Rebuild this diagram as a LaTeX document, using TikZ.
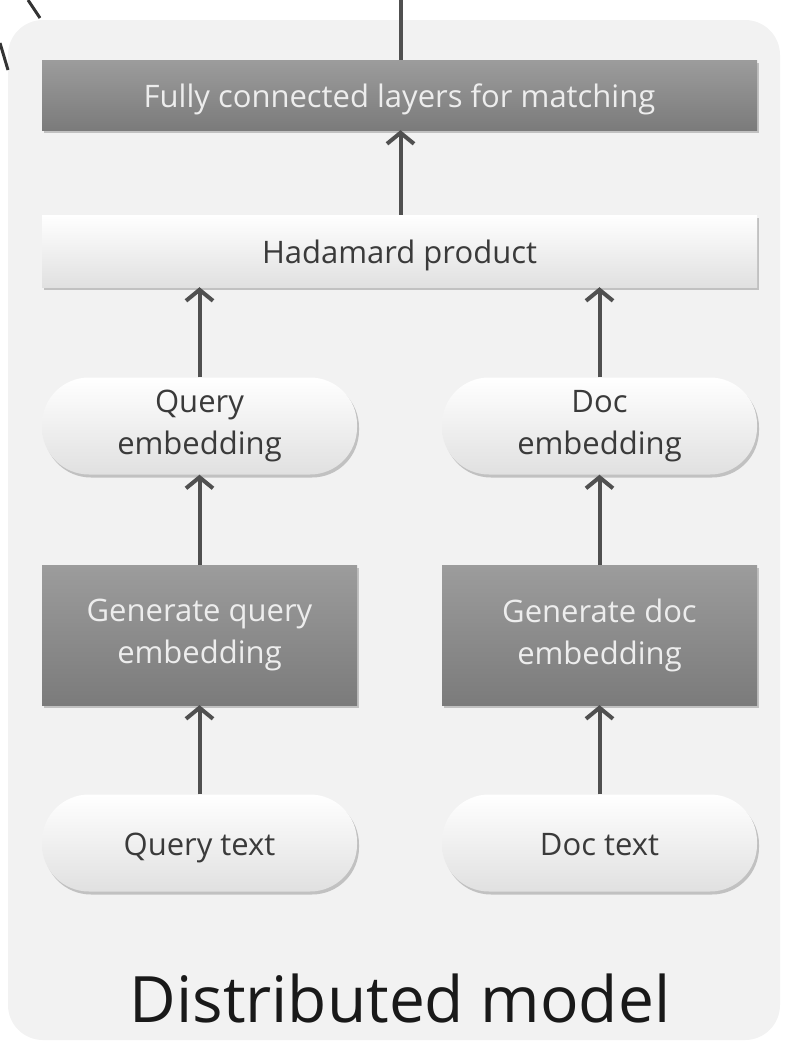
\documentclass[tikz,border=0pt]{standalone}
\usepackage{fontspec}
\setmainfont{Open Sans}
\usetikzlibrary{arrows.meta,shadows}
\definecolor{panelgray}{HTML}{F2F2F2}
\definecolor{linkgray}{HTML}{505050}
\definecolor{darktop}{HTML}{9C9C9C}
\definecolor{darkbot}{HTML}{7B7B7B}
\definecolor{inktext}{HTML}{3A3A3A}
\begin{document}
\begin{tikzpicture}[x=1pt,y=-1pt,
    boxshadow/.style={drop shadow={shadow xshift=2pt,shadow yshift=-3pt,opacity=0.35,fill=black!60}},
    darkbox/.style={boxshadow,rectangle,top color=darktop,bottom color=darkbot,text=black!7,
        align=center,font=\fontsize{31}{42}\selectfont,inner sep=0pt},
    lightbox/.style={boxshadow,rectangle,top color=white,bottom color=black!12,text=inktext,
        align=center,font=\fontsize{31}{42}\selectfont,inner sep=0pt},
    pill/.style={lightbox,rounded corners=47pt,minimum width=315pt,minimum height=97pt},
    oneline/.style={text height=28pt,text depth=4pt},
    link/.style={draw=linkgray,line width=4pt,-{Straight Barb[length=11pt,width=27pt]}}]
  \useasboundingbox (0,0) rectangle (785,1045);
  % panel behind the model
  \fill[panelgray,rounded corners=35pt] (8,20) rectangle (780,1040);
  \draw[black!80,line width=3pt] (28,0) -- (40,18);
  \draw[black!80,line width=3pt] (0,43) -- (8,70);
  % matching part
  \node[darkbox,oneline,minimum width=715pt,minimum height=70pt] (fc) at (399.5,95) {Fully connected layers for matching};
  \node[lightbox,oneline,minimum width=715pt,minimum height=72pt] (had) at (399.5,251) {Hadamard product};
  % query side
  \node[pill] (qemb) at (199.5,426) {Query\\embedding};
  \node[darkbox,minimum width=315pt,minimum height=140pt] (qgen) at (199.5,635) {Generate query\\embedding};
  \node[pill,oneline] (qtxt) at (199.5,843) {Query text};
  % doc side
  \node[pill] (demb) at (599.5,426) {Doc\\embedding};
  \node[darkbox,minimum width=315pt,minimum height=140pt] (dgen) at (599.5,635) {Generate doc\\embedding};
  \node[pill,oneline] (dtxt) at (599.5,843) {Doc text};
  \node[font=\fontsize{64}{70}\selectfont,text=black!90] (title) at (400,998) {Distributed model};
  % connectors
  \coordinate (out) at (400.5,0);
  \draw[draw=linkgray,line width=4pt] (fc.north -| out) -- (out);
  \draw[link] (had.north -| out) -- (fc.south -| out);
  \draw[link] (qemb.north) -- (qemb.north |- had.south);
  \draw[link] (demb.north) -- (demb.north |- had.south);
  \draw[link] (qgen.north) -- (qemb.south);
  \draw[link] (dgen.north) -- (demb.south);
  \draw[link] (qtxt.north) -- (qgen.south);
  \draw[link] (dtxt.north) -- (dgen.south);
\end{tikzpicture}
\end{document}
